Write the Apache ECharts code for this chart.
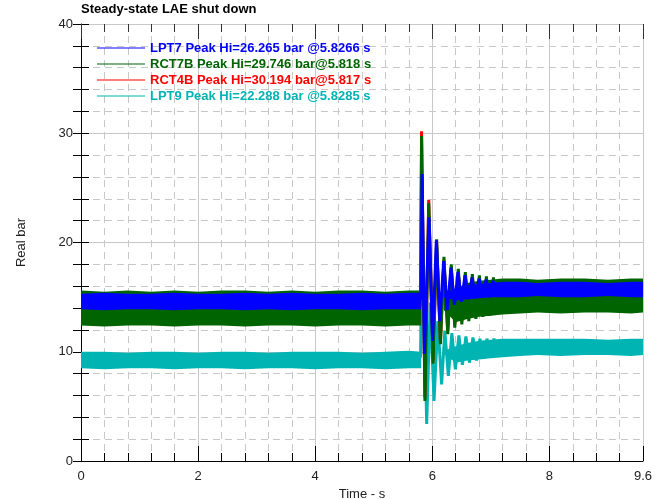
<!DOCTYPE html>
<html>
<head>
<meta charset="utf-8">
<script src="https://cdn.jsdelivr.net/npm/echarts@6/dist/echarts.min.js"></script>
<style>
  html, body { margin: 0; padding: 0; background: #fff; }
  #chart { width: 661px; height: 499px; }
</style>
</head>
<body>
<div id="chart"></div>
<script>
// legend labels
const labels = [
  "LPT7 Peak Hi=26.265 bar @5.8266 s",
  "RCT7B Peak Hi=29.746 bar@5.818 s",
  "RCT4B Peak Hi=30.194 bar@5.817 s",
  "LPT9 Peak Hi=22.288 bar @5.8285 s"
];
const colors = ["#0000ff", "#006400", "#ff0000", "#00b4b4"];

// noise band before the shut down (time, upper edge, lower edge)
const preT = [0, 0.4, 0.8, 1.2, 1.6, 2.0, 2.4, 2.8, 3.2, 3.6, 4.0, 4.4, 4.8, 5.2, 5.6, 5.81];
const lpt7PreHi = [15.3, 15.4, 15.3, 15.3, 15.4, 15.3, 15.3, 15.4, 15.3, 15.4, 15.3, 15.3, 15.4, 15.3, 15.4, 15.4];
const lpt7PreLo = [13.9, 13.8, 13.9, 13.9, 13.8, 13.9, 13.9, 13.8, 13.9, 13.8, 13.9, 13.9, 13.8, 13.9, 13.9, 13.9];
const rct7bPreHi = [15.6, 15.5, 15.6, 15.5, 15.6, 15.5, 15.6, 15.6, 15.5, 15.6, 15.5, 15.6, 15.6, 15.5, 15.6, 15.6];
const rct7bPreLo = [12.4, 12.3, 12.4, 12.4, 12.3, 12.4, 12.4, 12.3, 12.4, 12.4, 12.3, 12.4, 12.4, 12.3, 12.4, 12.4];
const rct4bPreHi = [15.2, 15.2, 15.2, 15.2, 15.2, 15.2, 15.2, 15.2, 15.2, 15.2, 15.2, 15.2, 15.2, 15.2, 15.2, 15.2];
const rct4bPreLo = [12.7, 12.7, 12.7, 12.7, 12.7, 12.7, 12.7, 12.7, 12.7, 12.7, 12.7, 12.7, 12.7, 12.7, 12.7, 12.7];
const lpt9PreHi = [10.0, 10.0, 9.9, 10.0, 10.0, 9.9, 10.0, 10.0, 9.9, 10.0, 10.0, 10.0, 9.9, 10.0, 10.1, 10.0];
const lpt9PreLo = [8.5, 8.4, 8.5, 8.5, 8.4, 8.5, 8.5, 8.4, 8.5, 8.5, 8.4, 8.5, 8.5, 8.4, 8.5, 8.5];

// noise band after the transient
const postT = [6.2, 6.4, 6.6, 6.8, 7.0, 7.2, 7.5, 7.8, 8.2, 8.6, 9.0, 9.4, 9.6];
const lpt7PostHi = [15.3, 15.8, 16.1, 16.2, 16.3, 16.4, 16.4, 16.3, 16.4, 16.4, 16.3, 16.4, 16.4];
const lpt7PostLo = [15.0, 14.7, 14.8, 14.9, 15.0, 15.0, 15.0, 15.1, 15.0, 15.0, 15.1, 15.0, 15.0];
const rct7bPostHi = [15.0, 15.8, 16.3, 16.5, 16.6, 16.7, 16.7, 16.6, 16.7, 16.7, 16.6, 16.7, 16.7];
const rct7bPostLo = [13.8, 12.7, 13.0, 13.2, 13.3, 13.4, 13.5, 13.6, 13.5, 13.6, 13.6, 13.5, 13.6];
const rct4bPostHi = [14.8, 15.6, 16.1, 16.3, 16.4, 16.5, 16.5, 16.4, 16.5, 16.5, 16.4, 16.5, 16.5];
const rct4bPostLo = [13.9, 12.9, 13.2, 13.4, 13.5, 13.6, 13.7, 13.8, 13.7, 13.8, 13.8, 13.7, 13.8];
const lpt9PostHi = [10.1, 10.5, 10.8, 11.0, 11.1, 11.2, 11.2, 11.2, 11.2, 11.2, 11.1, 11.2, 11.2];
const lpt9PostLo = [9.8, 9.0, 9.2, 9.3, 9.4, 9.5, 9.6, 9.7, 9.6, 9.7, 9.7, 9.6, 9.7];

// transient oscillation, [time s, bar]
const lpt7Osc = [[5.78, 14.6], [5.81, 15.0], [5.827, 26.27], [5.865, 9.8], [5.945, 22.3], [6.005, 11.0],
  [6.07, 20.2], [6.13, 12.8], [6.195, 18.3], [6.255, 13.8], [6.32, 17.7], [6.38, 14.3], [6.44, 17.3],
  [6.50, 14.6], [6.56, 17.0], [6.62, 14.8], [6.68, 16.8], [6.74, 14.9], [6.80, 16.7], [6.86, 15.0],
  [6.92, 16.6], [6.98, 15.0], [7.04, 16.5], [7.10, 15.1]];
const rct7bOsc = [[5.78, 14.0], [5.80, 14.5], [5.818, 29.75], [5.875, 5.5], [5.94, 23.6], [6.015, 8.9],
  [6.075, 20.3], [6.14, 10.7], [6.20, 18.7], [6.265, 11.6], [6.325, 18.0], [6.385, 12.2], [6.445, 17.6],
  [6.505, 12.5], [6.565, 17.3], [6.625, 12.8], [6.685, 17.1], [6.745, 13.0], [6.805, 17.0], [6.865, 13.2],
  [6.925, 16.9], [6.985, 13.3], [7.045, 16.8], [7.105, 13.4]];
const rct4bOsc = [[5.78, 14.0], [5.80, 14.5], [5.817, 30.19], [5.875, 5.8], [5.94, 23.9], [6.015, 9.2],
  [6.075, 20.0], [6.14, 11.0], [6.20, 18.4], [6.265, 11.9], [6.325, 17.7], [6.385, 12.5], [6.445, 17.3],
  [6.505, 12.8], [6.565, 17.0], [6.625, 13.1], [6.685, 16.8], [6.745, 13.3], [6.805, 16.7]];
const lpt9Osc = [[5.78, 9.3], [5.80, 9.6], [5.8285, 22.29], [5.905, 3.4], [5.965, 14.5], [6.03, 5.5],
  [6.095, 12.8], [6.16, 7.0], [6.215, 11.9], [6.275, 7.8], [6.335, 11.7], [6.395, 8.4], [6.455, 11.5],
  [6.515, 8.8], [6.575, 11.4], [6.635, 9.0], [6.695, 11.3], [6.755, 9.2], [6.815, 11.2], [6.875, 9.4],
  [6.935, 11.2], [6.995, 9.5], [7.055, 11.2], [7.115, 9.6]];

const font = "'Liberation Sans', Arial, sans-serif";
const gridGrey = "#c8c8c8";

// filled noise band drawn as polygons through the axis scale
function band(name, color, parts, z) {
  return {
    type: "custom",
    name: name,
    silent: true,
    z: z,
    data: [[0, 0]],
    renderItem: function (params, api) {
      const children = parts.map(function (p) {
        const pts = [];
        p.t.forEach(function (t, i) { pts.push(api.coord([t, p.hi[i]])); });
        for (let i = p.t.length - 1; i >= 0; i--) pts.push(api.coord([p.t[i], p.lo[i]]));
        return { type: "polygon", shape: { points: pts }, style: { fill: color } };
      });
      return { type: "group", children: children };
    }
  };
}

function osc(name, color, data, z) {
  return {
    type: "line",
    name: name,
    data: data,
    z: z,
    symbol: "none",
    lineStyle: { color: color, width: 3 },
    itemStyle: { color: color }
  };
}

const chart = echarts.init(document.getElementById("chart"));
let option = {
  animation: false,
  title: {
    text: "Steady-state LAE shut down",
    left: 81,
    top: 3,
    padding: 0,
    textStyle: { fontSize: 13, fontWeight: "bold", color: "#000", fontFamily: font }
  },
  legend: {
    orient: "vertical",
    left: 97,
    top: 41,
    padding: 0,
    itemWidth: 48,
    itemHeight: 1.2,
    itemGap: 2,
    icon: "rect",
    textStyle: { fontSize: 13, fontWeight: "bold", fontFamily: font, lineHeight: 14 },
    data: labels.map(function (l, i) {
      return { name: l, textStyle: { color: colors[i] } };
    })
  },
  grid: { left: 81, right: 18, top: 24, bottom: 38, outerBoundsMode: "none", containLabel: false },
  xAxis: [
    {
      type: "value", position: "bottom", min: 0, max: 9.6, interval: 2,
      name: "Time - s", nameLocation: "middle", nameGap: 24,
      nameTextStyle: { fontSize: 13, color: "#222", fontFamily: font },
      axisLine: { lineStyle: { color: "#000", width: 1 } },
      axisTick: { inside: true, length: 15, lineStyle: { color: "#000" } },
      axisLabel: { fontSize: 13, color: "#222", fontFamily: font, margin: 9 },
      splitLine: { show: true, lineStyle: { color: gridGrey, width: 1 } }
    },
    {
      type: "value", position: "bottom", min: 0, max: 9.6, interval: 0.4,
      axisLine: { show: false },
      axisTick: { inside: true, length: 8, lineStyle: { color: "#000" } },
      axisLabel: { show: false },
      splitLine: { show: true, lineStyle: { color: gridGrey, type: [7, 5] } }
    },
    {
      type: "value", position: "top", min: 0, max: 9.6, interval: 0.4,
      axisLine: { show: true, lineStyle: { color: gridGrey } },
      axisTick: { inside: true, length: 8, lineStyle: { color: "#333" } },
      axisLabel: { show: false },
      splitLine: { show: false }
    },
    {
      type: "value", position: "top", min: 0, max: 9.6, interval: 2,
      axisLine: { show: false },
      axisTick: { inside: true, length: 15, lineStyle: { color: "#333" } },
      axisLabel: { show: false },
      splitLine: { show: false }
    }
  ],
  yAxis: [
    {
      type: "value", position: "left", min: 0, max: 40, interval: 10,
      name: "Real bar", nameLocation: "middle", nameGap: 53, nameRotate: 90,
      nameTextStyle: { fontSize: 13, color: "#222", fontFamily: font },
      axisLine: { show: true, lineStyle: { color: gridGrey } },
      axisTick: { show: true, inside: true, length: 8, lineStyle: { color: "#000" } },
      minorTick: { show: true, splitNumber: 5, length: 8, lineStyle: { color: "#000" } },
      axisLabel: { fontSize: 13, color: "#222", fontFamily: font, margin: 8 },
      splitLine: { show: true, lineStyle: { color: gridGrey, width: 1 } },
      minorSplitLine: { show: true, lineStyle: { color: gridGrey, type: [7, 5] } }
    },
    {
      type: "value", position: "right", min: 0, max: 40, interval: 10,
      axisLine: { show: true, lineStyle: { color: "#000" } },
      axisTick: { show: true, inside: true, length: 8, lineStyle: { color: "#000" } },
      minorTick: { show: true, splitNumber: 5, length: 8, lineStyle: { color: "#000" } },
      axisLabel: { show: false },
      splitLine: { show: false }
    }
  ],
  series: [
    // drawn bottom to top: LPT9, RCT4B, RCT7B, LPT7
    band("LPT9 band", colors[3], [{ t: preT, hi: lpt9PreHi, lo: lpt9PreLo }, { t: postT, hi: lpt9PostHi, lo: lpt9PostLo }], 2),
    osc(labels[3], colors[3], lpt9Osc, 3),
    band("RCT4B band", colors[2], [{ t: preT, hi: rct4bPreHi, lo: rct4bPreLo }, { t: postT, hi: rct4bPostHi, lo: rct4bPostLo }], 4),
    osc(labels[2], colors[2], rct4bOsc, 5),
    band("RCT7B band", colors[1], [{ t: preT, hi: rct7bPreHi, lo: rct7bPreLo }, { t: postT, hi: rct7bPostHi, lo: rct7bPostLo }], 6),
    osc(labels[1], colors[1], rct7bOsc, 7),
    band("LPT7 band", colors[0], [{ t: preT, hi: lpt7PreHi, lo: lpt7PreLo }, { t: postT, hi: lpt7PostHi, lo: lpt7PostLo }], 8),
    osc(labels[0], colors[0], lpt7Osc, 9)
  ]
};
chart.setOption(option);
</script>
</body>
</html>
